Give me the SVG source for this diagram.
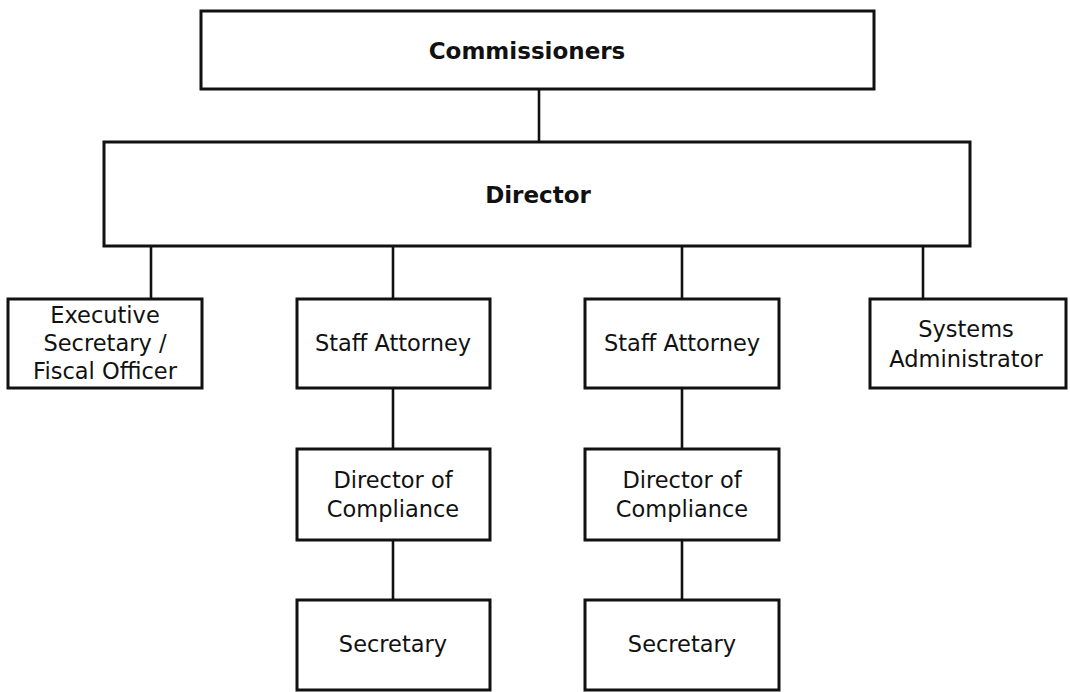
<svg xmlns="http://www.w3.org/2000/svg" width="1070" height="692" viewBox="0 0 1070 692">
<style>
.box{fill:#fff;stroke:#111;stroke-width:3}
.ln{stroke:#111;stroke-width:2.6;fill:none}
.t{font-family:"DejaVu Sans",Verdana,sans-serif;font-size:22.5px;fill:#111;text-anchor:middle}
.b{font-family:"DejaVu Sans",Verdana,sans-serif;font-size:23px;font-weight:bold;fill:#111;text-anchor:middle}
</style>
<rect width="1070" height="692" fill="#fff"/>
<g id="connectors">
<line class="ln" x1="539" y1="89" x2="539" y2="142"/>
<line class="ln" x1="151" y1="246" x2="151" y2="299"/>
<line class="ln" x1="393" y1="246" x2="393" y2="299"/>
<line class="ln" x1="682" y1="246" x2="682" y2="299"/>
<line class="ln" x1="923" y1="246" x2="923" y2="299"/>
<line class="ln" x1="393" y1="388" x2="393" y2="449"/>
<line class="ln" x1="682" y1="388" x2="682" y2="449"/>
<line class="ln" x1="393" y1="540" x2="393" y2="600"/>
<line class="ln" x1="682" y1="540" x2="682" y2="600"/>
</g>
<g id="commissioners">
<rect class="box" x="201" y="11" width="673" height="78"/>
<text class="b" x="527" y="59">Commissioners</text>
</g>
<g id="director">
<rect class="box" x="104" y="142" width="866" height="104"/>
<text class="b" x="538" y="203">Director</text>
</g>
<g id="exec">
<rect class="box" x="8" y="299" width="194" height="89"/>
<text class="t" x="105" y="323">Executive</text>
<text class="t" x="105" y="351">Secretary /</text>
<text class="t" x="105" y="379">Fiscal Officer</text>
</g>
<g id="staff1">
<rect class="box" x="297" y="299" width="193" height="89"/>
<text class="t" x="393" y="351">Staff Attorney</text>
</g>
<g id="staff2">
<rect class="box" x="585" y="299" width="194" height="89"/>
<text class="t" x="682" y="351">Staff Attorney</text>
</g>
<g id="sysadmin">
<rect class="box" x="870" y="299" width="196" height="89"/>
<text class="t" x="966" y="337">Systems</text>
<text class="t" x="966" y="367">Administrator</text>
</g>
<g id="compliance1">
<rect class="box" x="297" y="449" width="193" height="91"/>
<text class="t" x="393" y="488">Director of</text>
<text class="t" x="393" y="517">Compliance</text>
</g>
<g id="compliance2">
<rect class="box" x="585" y="449" width="194" height="91"/>
<text class="t" x="682" y="488">Director of</text>
<text class="t" x="682" y="517">Compliance</text>
</g>
<g id="secretary1">
<rect class="box" x="297" y="600" width="193" height="90"/>
<text class="t" x="393" y="652">Secretary</text>
</g>
<g id="secretary2">
<rect class="box" x="585" y="600" width="194" height="90"/>
<text class="t" x="682" y="652">Secretary</text>
</g>
</svg>
